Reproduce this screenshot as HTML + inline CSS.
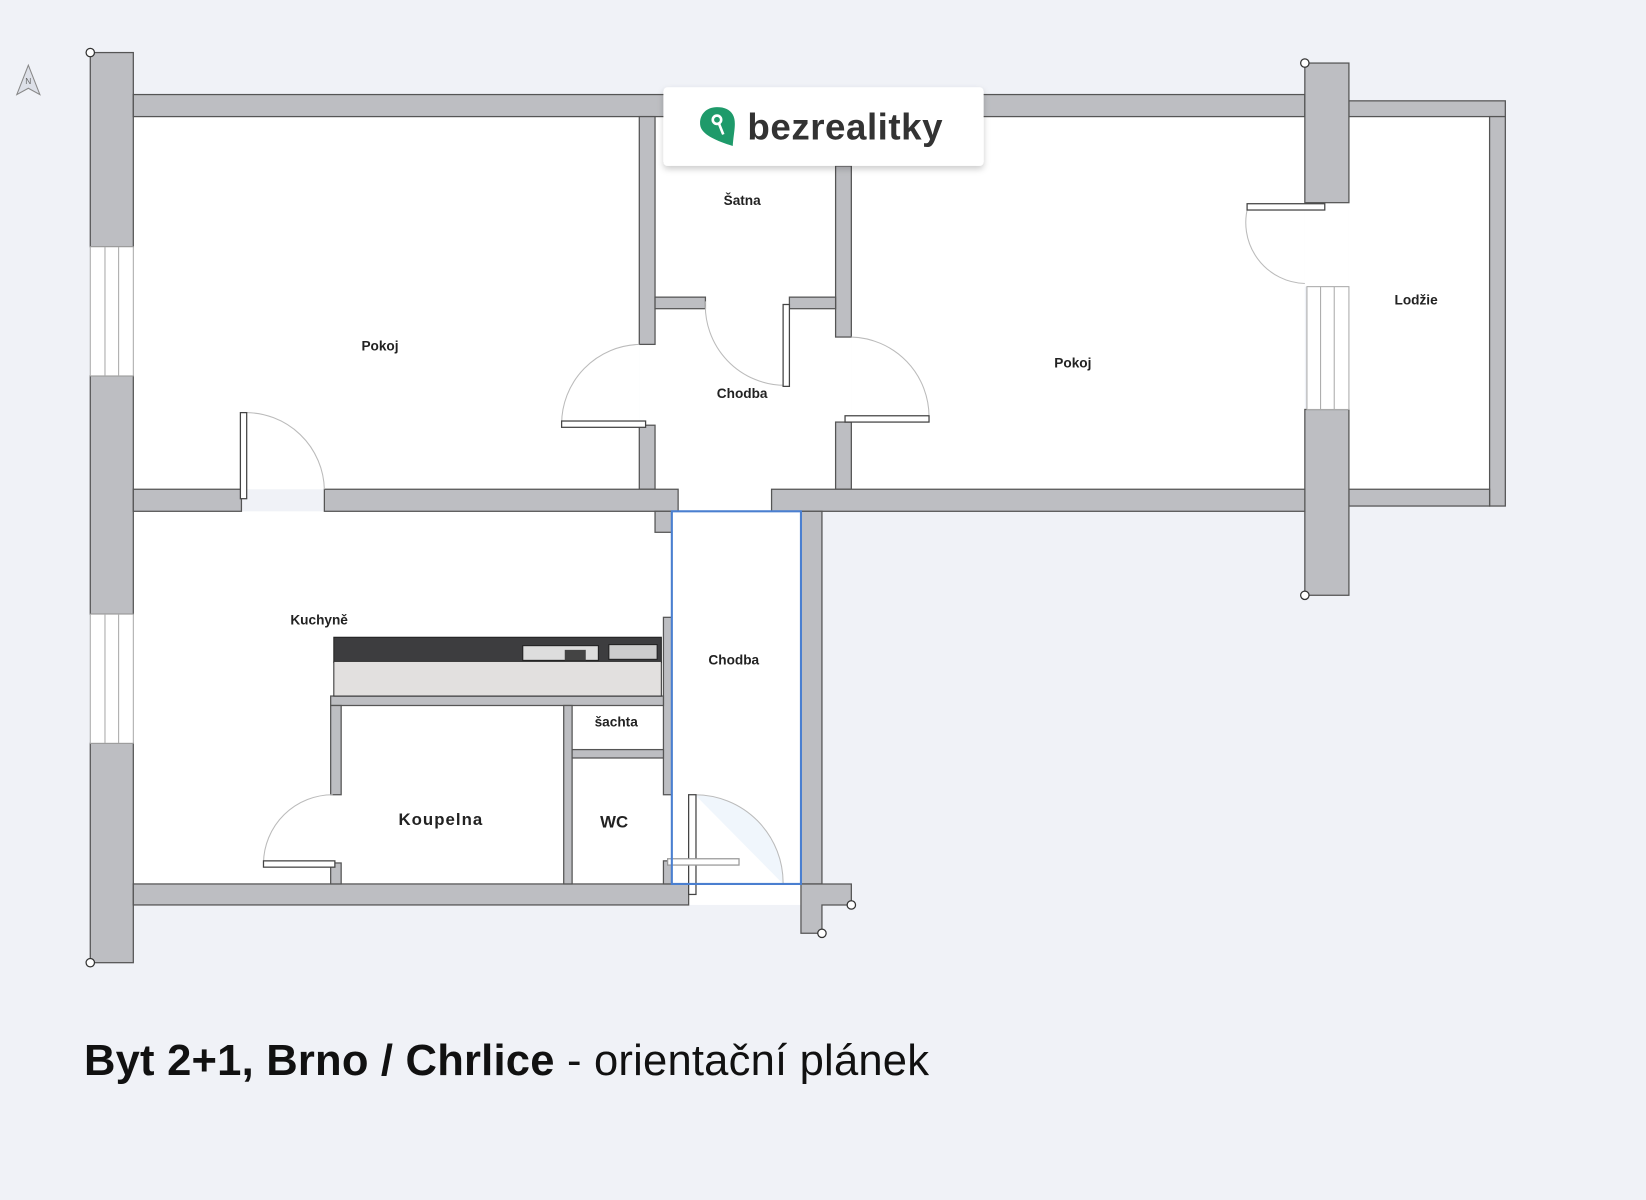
<!DOCTYPE html>
<html><head><meta charset="utf-8"><style>
html,body{margin:0;padding:0;background:#f0f2f7;}
svg{display:block}
text{font-family:"Liberation Sans",sans-serif;}
</style></head><body>
<svg width="1646" height="1200" viewBox="0 0 1568 1143" xmlns="http://www.w3.org/2000/svg">
<defs>
<filter id="sh" x="-10%" y="-20%" width="120%" height="150%"><feDropShadow dx="0" dy="3" stdDeviation="3" flood-color="#000" flood-opacity="0.2"/></filter>
</defs>
<rect width="1568" height="1143" fill="#f0f2f7"/>
<path d="M27 62 L38 90 L27 84 L16 90 Z" fill="#dde0e8" stroke="#888" stroke-width="1"/>
<text x="27" y="80" font-size="8" text-anchor="middle" fill="#666">N</text>

<g fill="#fff">
<rect x="127" y="111" width="482" height="355"/>
<rect x="609" y="111" width="202" height="376"/>
<rect x="811" y="111" width="432" height="355"/>
<rect x="1285" y="111" width="134" height="355"/>
<rect x="1243" y="193" width="42" height="80"/>
<rect x="127" y="487" width="636" height="355"/>
<rect x="609" y="842" width="154" height="20"/>
</g>

<g fill="#bdbec2" stroke="#555" stroke-width="1.2">
<rect x="86" y="50" width="41" height="185"/>
<rect x="86" y="358" width="41" height="227"/>
<rect x="86" y="708" width="41" height="209"/>
<rect x="127" y="90" width="510" height="21"/>
<rect x="932" y="90" width="311" height="21"/>
<rect x="1285" y="96" width="149" height="15"/>
<rect x="1419" y="111" width="15" height="371"/>
<rect x="1285" y="466" width="134" height="16"/>
<rect x="1243" y="60" width="42" height="133"/>
<rect x="1243" y="390" width="42" height="177"/>
<rect x="609" y="111" width="15" height="217"/>
<rect x="609" y="405" width="15" height="61"/>
<rect x="796" y="158" width="15" height="163"/>
<rect x="796" y="402" width="15" height="64"/>
<rect x="624" y="283" width="48" height="11"/>
<rect x="752" y="283" width="44" height="11"/>
<rect x="127" y="466" width="103" height="21"/>
<rect x="309" y="466" width="337" height="21"/>
<rect x="624" y="487" width="16" height="20"/>
<rect x="735" y="466" width="508" height="21"/>
<rect x="763" y="487" width="20" height="355"/>
<path d="M763 842 H811 V862 H783 V889 H763 Z"/>
<rect x="127" y="842" width="529" height="20"/>
<rect x="632" y="588" width="8" height="169"/>
<rect x="632" y="820" width="8" height="22"/>
<rect x="315" y="663" width="317" height="9"/>
<rect x="315" y="672" width="10" height="85"/>
<rect x="315" y="822" width="10" height="20"/>
<rect x="537" y="672" width="8" height="170"/>
<rect x="545" y="714" width="87" height="8"/>
</g>
<g fill="#fff" stroke="#aaa" stroke-width="1">
<rect x="86" y="235" width="41" height="123"/>
<line x1="100" y1="235" x2="100" y2="358"/><line x1="113" y1="235" x2="113" y2="358"/>
<rect x="86" y="585" width="41" height="123"/>
<line x1="100" y1="585" x2="100" y2="708"/><line x1="113" y1="585" x2="113" y2="708"/>
<rect x="1245" y="273" width="40" height="117"/>
<line x1="1258" y1="273" x2="1258" y2="390"/><line x1="1271" y1="273" x2="1271" y2="390"/>
</g>
<g fill="#fff" stroke="#333" stroke-width="1.2">
<circle cx="86" cy="50" r="4"/><circle cx="86" cy="917" r="4"/>
<circle cx="1243" cy="60" r="4"/><circle cx="1243" cy="567" r="4"/>
<circle cx="811" cy="862" r="4"/><circle cx="783" cy="889" r="4"/>
</g>
<g fill="none" stroke="#bbb" stroke-width="1">
<path d="M233 393 A75 75 0 0 1 309 466"/>
<path d="M609 328 A76 76 0 0 0 535 404"/>
<path d="M672 287 A76 76 0 0 0 748 367"/>
<path d="M811 321 A76 76 0 0 1 885 398"/>
<path d="M1243 270 A58 58 0 0 1 1189 196"/>
<path d="M317 757 A66 66 0 0 0 251 822"/>
<path d="M662 757 A84 84 0 0 1 746 842" fill="#e6f0fa" fill-opacity="0.6"/>
</g>
<g fill="#fff" stroke="#444" stroke-width="1.2">
<rect x="229" y="393" width="6" height="82"/>
<rect x="535" y="401" width="80" height="6"/>
<rect x="746" y="290" width="6" height="78"/>
<rect x="805" y="396" width="80" height="6"/>
<rect x="1188" y="194" width="74" height="6"/>
<rect x="251" y="820" width="68" height="6"/>
<rect x="656" y="757" width="7" height="95"/>
<rect x="636" y="818" width="68" height="6" stroke="#999"/>
</g>
<rect x="318" y="607" width="312" height="24" fill="#3d3d3f" stroke="#222"/>
<rect x="318" y="630" width="312" height="33" fill="#e2e0df" stroke="#333"/>
<rect x="498" y="615" width="72" height="14" fill="#ddd" stroke="#222"/>
<rect x="538" y="619" width="20" height="10" fill="#444"/>
<rect x="580" y="614" width="46" height="14" fill="#ccc" stroke="#222"/>
<rect x="640" y="487" width="123" height="355" fill="none" stroke="#4a7fd0" stroke-width="2"/>
<g font-size="13" font-weight="bold" fill="#222" text-anchor="middle">
<text x="362" y="334">Pokoj</text>
<text x="707" y="195">Šatna</text>
<text x="707" y="379">Chodba</text>
<text x="1022" y="350">Pokoj</text>
<text x="1349" y="290">Lodžie</text>
<text x="304" y="595">Kuchyně</text>
<text x="699" y="633">Chodba</text>
<text x="587" y="692">šachta</text>
<text x="420" y="786" font-size="16" letter-spacing="1">Koupelna</text>
<text x="585" y="788" font-size="16">WC</text>
</g>
<rect x="632" y="83" width="305" height="75" rx="4" fill="#fff" filter="url(#sh)"/>
<path d="M683 102 C672 102 666 110 667 119 C668 128 682 134 698 139 C699 125 702 116 698 109 C695 104 690 102 683 102 Z" fill="#1e9a6a"/>
<circle cx="683" cy="114" r="4" fill="none" stroke="#fff" stroke-width="2.5"/>
<line x1="685" y1="118" x2="689" y2="128" stroke="#fff" stroke-width="2.5"/>
<text x="712" y="133" font-size="35" font-weight="bold" fill="#333" letter-spacing="0.5">bezrealitky</text>
<text x="80" y="1024" font-size="41.5" fill="#111" letter-spacing="0.2"><tspan font-weight="bold">Byt 2+1, Brno / Chrlice</tspan> - orientační plánek</text>
</svg>
</body></html>
